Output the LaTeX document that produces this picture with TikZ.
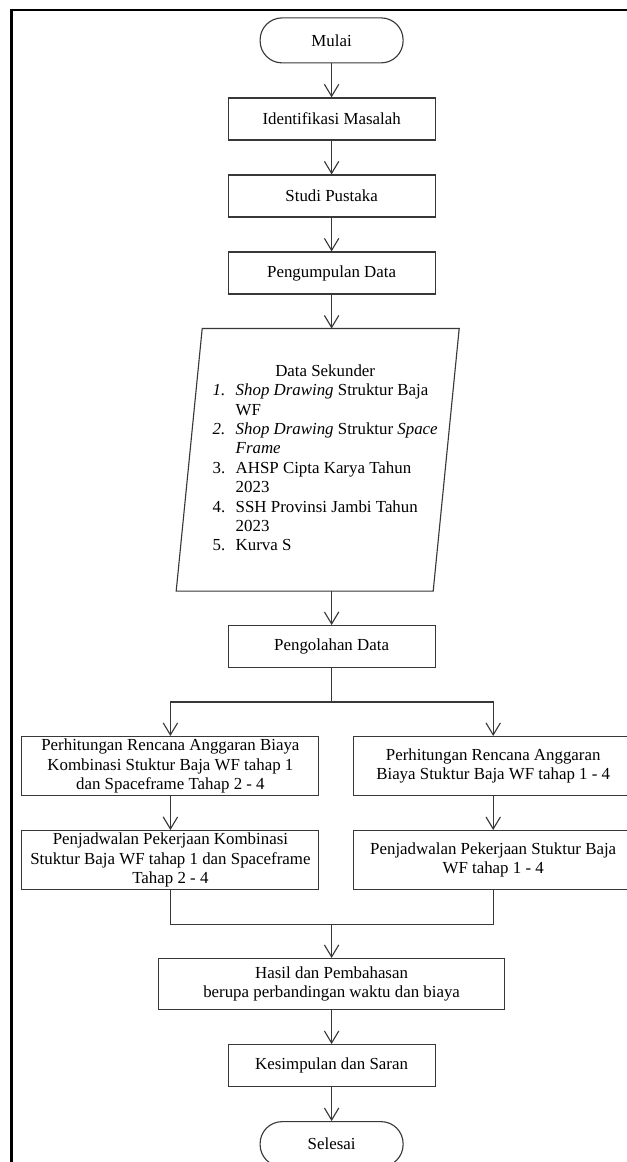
\documentclass[tikz,border=0pt]{standalone}
\usepackage{fontspec}
\setmainfont{Liberation Serif}
\usepackage{tikz}
\usetikzlibrary{positioning, arrows.meta}

\begin{document}
\begin{tikzpicture}[node distance=0.848cm, every node/.style={font=\fontsize{12pt}{13.8pt}\selectfont},
        garis/.style={draw=black!78, line width=0.8pt},
        box/.style={garis, rectangle, minimum width=5.175cm, minimum height=1.05cm},
        term/.style={garis, rectangle, rounded corners=0.55cm, minimum width=3.575cm, minimum height=1.125cm},
        lebar/.style={garis, rectangle, align=center, inner ysep=0pt, minimum height=1.475cm},
        >={Straight Barb[length=0.3cm, width=0.36cm]}]
        \useasboundingbox (0,0) rectangle (15.65,-29.05);
        \draw[line width=2pt] (0.29,-0.25) rectangle (16.3,-29.8);

        \node[term] (mulai) at (8.29,-1.01) {Mulai};
        \node[box, below=of mulai] (idn) {Identifikasi Masalah};
        \node[box, below=of idn] (studi) {Studi Pustaka};
        \node[box, below=of studi] (kumpul) {Pengumpulan Data};

        \node[below=of kumpul, xshift=-0.16cm, minimum height=6.55cm, inner sep=0pt] (sek) {%
                \begin{tabular}{@{}p{0.575cm}@{}l@{}}
                \multicolumn{2}{c}{Data Sekunder}\\
                \textit{1.} & \textit{Shop Drawing} Struktur Baja\\
                 & WF\\
                \textit{2.} & \textit{Shop Drawing} Struktur \textit{Space}\\
                 & \textit{Frame}\\
                3. & AHSP Cipta Karya Tahun\\
                 & 2023\\
                4. & SSH Provinsi Jambi Tahun\\
                 & 2023\\
                5. & Kurva S
                \end{tabular}};
        \coordinate (sek-a) at ([xshift=-3.075cm]sek.north);
        \coordinate (sek-b) at ([xshift=3.35cm]sek.north);
        \coordinate (sek-c) at ([xshift=2.7cm]sek.south);
        \coordinate (sek-d) at ([xshift=-3.725cm]sek.south);
        \draw[garis] (sek-a) -- (sek-b) -- (sek-c) -- (sek-d) -- cycle;

        \node[box, below=of sek, xshift=0.16cm] (olah) {Pengolahan Data};
        \coordinate[below=of olah] (cab);

        \node[lebar, minimum width=7.425cm, below=of cab, xshift=-4.03cm] (rab1) {Perhitungan Rencana Anggaran Biaya\\Kombinasi Stuktur Baja WF tahap 1\\dan Spaceframe Tahap 2 - 4};
        \node[lebar, minimum width=7cm, below=of cab, xshift=4.04cm] (rab2) {Perhitungan Rencana Anggaran\\Biaya Stuktur Baja WF tahap 1 - 4};
        \node[lebar, minimum width=7.425cm, below=of rab1] (jad1) {Penjadwalan Pekerjaan Kombinasi\\Stuktur Baja WF tahap 1 dan Spaceframe\\Tahap 2 - 4};
        \node[lebar, minimum width=7cm, below=of rab2] (jad2) {Penjadwalan Pekerjaan Stuktur Baja\\WF tahap 1 - 4};

        \coordinate[below=of jad1] (gab1);
        \coordinate (gab) at (olah |- gab1);
        \node[box, align=center, minimum width=8.65cm, minimum height=1.275cm, below=of gab] (hasil) {Hasil dan Pembahasan\\berupa perbandingan waktu dan biaya};
        \node[box, below=of hasil] (simpul) {Kesimpulan dan Saran};
        \node[term, below=of simpul] (selesai) {Selesai};

        \draw[garis, ->] (mulai) -- (idn);
        \draw[garis, ->] (idn) -- (studi);
        \draw[garis, ->] (studi) -- (kumpul);
        \draw[garis, ->] (kumpul) -- (kumpul |- sek.north);
        \draw[garis, ->] (olah |- sek.south) -- (olah);
        \draw[garis] (olah) -- (cab);
        \draw[garis, ->] (cab) -| (rab1);
        \draw[garis, ->] (cab) -| (rab2);
        \draw[garis, ->] (rab1) -- (jad1);
        \draw[garis, ->] (rab2) -- (jad2);
        \draw[garis] (jad1) |- (gab);
        \draw[garis] (jad2) |- (gab);
        \draw[garis, ->] (gab) -- (hasil);
        \draw[garis, ->] (hasil) -- (simpul);
        \draw[garis, ->] (simpul) -- (selesai);
    \end{tikzpicture}
\end{document}
